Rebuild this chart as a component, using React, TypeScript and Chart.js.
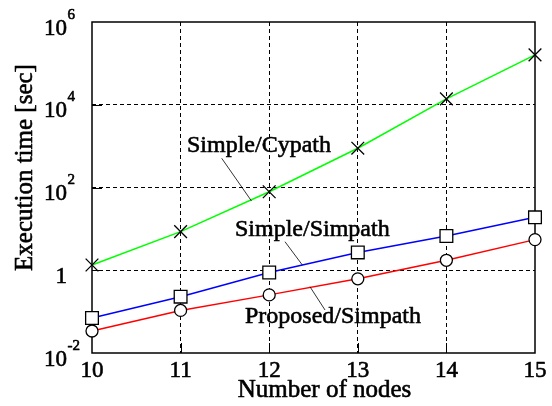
import React, { useEffect, useRef } from "react";
import { Chart, registerables } from "chart.js";

Chart.register(...registerables);

const nodes = [10, 11, 12, 13, 14, 15];
const simpleCypath = [1.34, 8.6, 79, 890, 13900, 160000];
const simpleSimpath = [0.07, 0.23, 0.88, 2.7, 6.7, 19];
const proposedSimpath = [0.034, 0.107, 0.254, 0.62, 1.74, 5.5];

const xTicks = [10, 11, 12, 13, 14, 15];
const xTickLabels = ["10", "11", "12", "13", "14", "15"];
const yTickValues = [1e-2, 1, 1e2, 1e4, 1e6];
const yTickBases = ["10", "1", "10", "10", "10"];
const yTickExps = ["-2", "", "2", "4", "6"];

const xTitle = "Number of nodes";
const yTitle = "Execution time [sec]";

// annotation labels: text anchor (left, baseline) and leader line in data coordinates
const annLabels = ["Simple/Cypath", "Simple/Simpath", "Proposed/Simpath"];
const annTextX = [11.072, 11.614, 11.727];
const annTextY = [721, 6.73, 0.0531];
const annLine1X = [11.464, 12.178, 12.46];
const annLine1Y = [508, 4.9, 0.4];
const annLine2X = [11.8, 12.374, 12.63];
const annLine2Y = [47.2, 1.34, 0.1094];

const FONT = '"Liberation Serif", "Times New Roman", serif';

function heavyText(ctx: CanvasRenderingContext2D, t: string, x: number, y: number) {
  ctx.fillText(t, x, y);
  ctx.strokeText(t, x, y);
}

const framePlugin = {
  id: "frame",
  beforeDatasetsDraw(chart: any) {
    const { ctx, chartArea: a, scales } = chart;
    const x = scales.x;
    const y = scales.y;
    ctx.save();
    ctx.strokeStyle = "#000";
    ctx.lineWidth = 1;
    ctx.setLineDash([]);
    ctx.beginPath();
    xTicks.forEach((v, i) => {
      if (i === 0 || i === xTicks.length - 1) return;
      const px = Math.round(x.getPixelForValue(v)) + 0.5;
      ctx.moveTo(px, a.bottom);
      ctx.lineTo(px, a.bottom - 10);
    });
    yTickValues.forEach((v, i) => {
      if (i === 0 || i === yTickValues.length - 1) return;
      const py = Math.round(y.getPixelForValue(v)) + 0.5;
      ctx.moveTo(a.left, py);
      ctx.lineTo(a.left + 10, py);
    });
    ctx.stroke();
    ctx.lineWidth = 1.5;
    ctx.strokeRect(a.left, a.top, a.right - a.left, a.bottom - a.top);
    ctx.restore();
  },
  afterDraw(chart: any) {
    const { ctx, chartArea: a, scales } = chart;
    const x = scales.x;
    const y = scales.y;
    ctx.save();
    ctx.fillStyle = "#000";
    ctx.strokeStyle = "#000";
    ctx.lineWidth = 0.6;
    ctx.lineJoin = "round";
    // x tick labels
    ctx.font = `23px ${FONT}`;
    ctx.textAlign = "center";
    ctx.textBaseline = "alphabetic";
    xTicks.forEach((v, i) => {
      heavyText(ctx, xTickLabels[i], x.getPixelForValue(v), a.bottom + 24);
    });
    // y tick labels with exponents
    yTickValues.forEach((v, i) => {
      const py = y.getPixelForValue(v);
      ctx.font = `23px ${FONT}`;
      ctx.textAlign = "right";
      heavyText(ctx, yTickBases[i], 67, py + 12.5);
      if (yTickExps[i]) {
        ctx.font = `15px ${FONT}`;
        ctx.textAlign = "left";
        heavyText(ctx, yTickExps[i], 67.5, py - 3.5);
      }
    });
    // axis titles
    ctx.font = `25px ${FONT}`;
    ctx.textAlign = "center";
    heavyText(ctx, xTitle, (a.left + a.right) / 2 + 11, 397);
    ctx.save();
    ctx.translate(32, (a.top + a.bottom) / 2 - 20);
    ctx.rotate(-Math.PI / 2);
    heavyText(ctx, yTitle, 0, 0);
    ctx.restore();
    // annotations
    ctx.font = `24px ${FONT}`;
    ctx.textAlign = "left";
    annLabels.forEach((t, i) => {
      ctx.lineWidth = 0.6;
      heavyText(ctx, t, x.getPixelForValue(annTextX[i]), y.getPixelForValue(annTextY[i]));
      ctx.lineWidth = 0.8;
      ctx.beginPath();
      ctx.moveTo(x.getPixelForValue(annLine1X[i]), y.getPixelForValue(annLine1Y[i]));
      ctx.lineTo(x.getPixelForValue(annLine2X[i]), y.getPixelForValue(annLine2Y[i]));
      ctx.stroke();
    });
    ctx.restore();
  },
};

export default function App() {
  const ref = useRef<HTMLCanvasElement>(null);
  useEffect(() => {
    if (!ref.current) return;
    const toPts = (arr: number[]) => nodes.map((n, i) => ({ x: n, y: arr[i] }));
    const chart = new Chart(ref.current, {
      type: "line",
      data: {
        datasets: [
          {
            data: toPts(simpleCypath),
            borderColor: "#00ff00",
            borderWidth: 1.5,
            pointStyle: "crossRot",
            pointRadius: 9,
            pointBorderColor: "#000",
            pointBorderWidth: 1.3,
            pointBackgroundColor: "rgba(0,0,0,0)",
            tension: 0,
            clip: false,
          },
          {
            data: toPts(simpleSimpath),
            borderColor: "#0000ff",
            borderWidth: 1.5,
            pointStyle: "rect",
            pointRadius: 9,
            pointBorderColor: "#000",
            pointBorderWidth: 1.3,
            pointBackgroundColor: "#fff",
            tension: 0,
            clip: false,
          },
          {
            data: toPts(proposedSimpath),
            borderColor: "#ff0000",
            borderWidth: 1.5,
            pointStyle: "circle",
            pointRadius: 6,
            pointBorderColor: "#000",
            pointBorderWidth: 1.3,
            pointBackgroundColor: "#fff",
            tension: 0,
            clip: false,
          },
        ] as any,
      },
      options: {
        animation: false,
        responsive: false,
        devicePixelRatio: 1,
        layout: { padding: { left: 0, right: 17, top: 22, bottom: 0 } },
        plugins: { legend: { display: false }, tooltip: { enabled: false } },
        scales: {
          x: {
            type: "linear",
            min: 10,
            max: 15,
            afterBuildTicks: (s: any) => {
              s.ticks = xTicks.map((v) => ({ value: v }));
            },
            afterFit: (s: any) => {
              s.height = 53;
            },
            ticks: { display: false },
            grid: {
              color: (c: any) =>
                c.index === 0 || c.index === xTicks.length - 1 ? "rgba(0,0,0,0)" : "#000",
              lineWidth: 1,
              drawTicks: false,
            },
            border: { display: false, dash: [4, 3] },
          },
          y: {
            type: "logarithmic",
            min: 1e-2,
            max: 1e6,
            afterBuildTicks: (s: any) => {
              s.ticks = yTickValues.map((v) => ({ value: v }));
            },
            afterFit: (s: any) => {
              s.width = 92;
            },
            ticks: { display: false },
            grid: {
              color: (c: any) =>
                c.index === 0 || c.index === yTickValues.length - 1 ? "rgba(0,0,0,0)" : "#000",
              lineWidth: 1,
              drawTicks: false,
            },
            border: { display: false, dash: [4, 3] },
          },
        },
      } as any,
      plugins: [framePlugin],
    });
    return () => chart.destroy();
  }, []);
  return (
    <div style={{ position: "absolute", left: 0, top: 0, width: 552, height: 406, background: "#fff" }}>
      <canvas ref={ref} width={552} height={406} style={{ display: "block" }} />
    </div>
  );
}
